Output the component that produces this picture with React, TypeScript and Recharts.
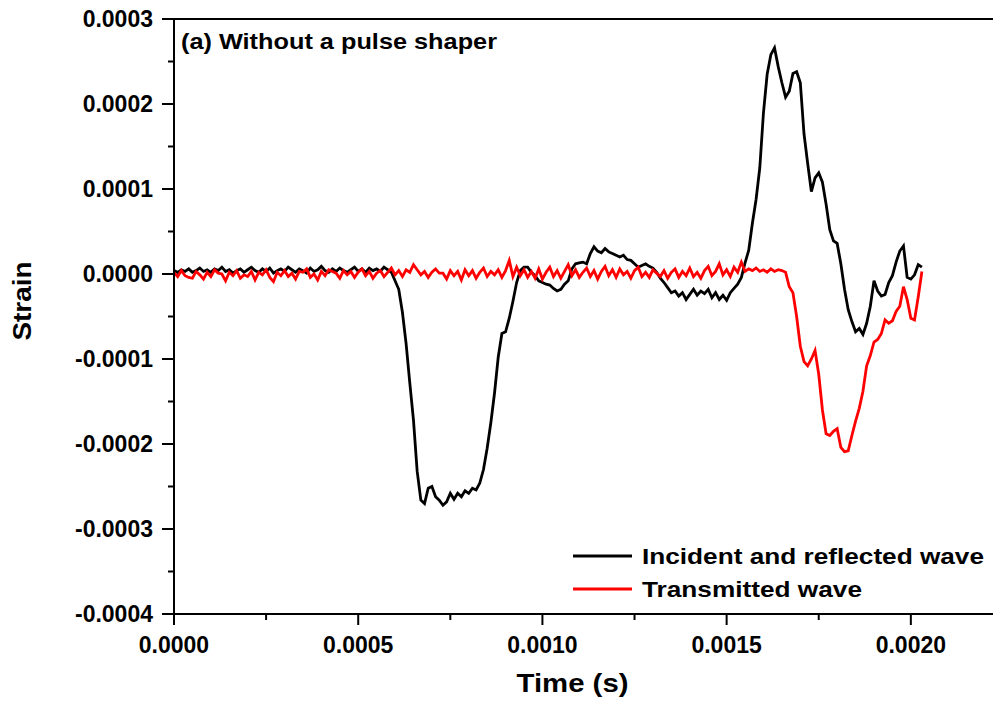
import React from "react"
import { LineChart, Line, XAxis, YAxis, ReferenceLine, Legend } from "recharts"

const FONT = "'Liberation Sans', Arial, sans-serif"

// sampling interval of the recorded gauge signals (s)
const STEP_S = 0.00001

// incident + reflected wave, in microstrain
const incident = [
  4, 2, 5, 3, 6, 2, 4, 7, 3, 5,
  2, 6, 4, 8, 3, 5, 1, 4, 6, 2,
  5, 8, 4, 2, 6, 3, 7, 1, 4, 6,
  3, 8, 5, 2, 6, 4, 1, 7, 3, 5,
  9, 4, 2, 6, 3, 7, 4, 2, 5, 8,
  3, 6, 2, 7, 4, 6, 3, 8, 5, 2,
  -8, -18, -45, -82, -128, -172, -232, -266, -270, -252,
  -250, -262, -266, -272, -268, -258, -265, -258, -262, -255,
  -258, -252, -254, -246, -230, -205, -175, -140, -98, -70,
  -68, -52, -32, -10, 4, 8, 8, 2, -2, -8,
  -10, -12, -13, -17, -20, -18, -12, -8, 6, 12,
  13, 14, 12, 24, 32, 27, 25, 30, 26, 24,
  22, 20, 22, 17, 16, 12, 8, 10, 12, 9,
  7, 2, -5, -10, -16, -22, -20, -26, -22, -30,
  -24, -18, -25, -20, -23, -18, -28, -22, -30, -25,
  -31, -22, -17, -12, -4, 13, 28, 60, 88, 125,
  190, 235, 258, 266, 244, 225, 208, 215, 236, 238,
  225, 165, 130, 97, 113, 119, 108, 82, 52, 39,
  36, 12, -18, -42, -56, -68, -64, -71, -58, -38,
  -8, -20, -26, -24, -10, -2, 14, 27, 33, -4,
  -6, -1, 11, 8,
]

// transmitted wave, in microstrain
const transmitted = [
  2, -3, 4, -2, -4, -5, 3, -1, -6, 2,
  -3, 5, 1, 0, -8, 2, -2, 4, -5, -1,
  -3, 3, -7, 2, -1, 5, -4, -9, 2, -2,
  4, -3, 1, -6, 3, 2, 6, -4, 0, -7,
  3, -2, 5, 3, 1, -5, 4, -1, 3, -4,
  2, 6, -2, 3, -5, 1, 4, -3, 2, 7,
  -1, 4, -3, 5, 2, 11, 5, -1, 3, -4,
  2, 6, 1, 1, -6, 4, -2, 3, -7, 5,
  -2, 4, -5, 2, 7, -3, 3, -1, 5, -4,
  4, 16, -3, 8, -2, 5, -4, 3, -5, 6,
  -6, 2, 8, -3, 4, -5, 3, 11, -2, 5,
  -4, 2, 7, -3, 4, -6, 3, 9, -2, 5,
  -4, 6, -1, 3, -5, 4, 8, -3, 2, -4,
  5, 1, -3, 4, -5, 2, 6, -4, 3, -2,
  7, -3, 2, -5, 4, 9, -2, 3, 12, -1,
  5, -3, 8, 2, 14, 3, 6, 4, 7, 3,
  5, 2, 6, 3, 5, 4, 2, -15, -22, -50,
  -85, -103, -108, -100, -90, -118, -160, -188, -190, -185,
  -182, -204, -209, -208, -190, -173, -158, -138, -108, -96,
  -80, -77, -70, -54, -58, -55, -44, -38, -15, -30,
  -52, -54, -27, 3,
]

const xMajorTicks = [0, 0.0005, 0.001, 0.0015, 0.002]
const xMinorTicks = [0.00025, 0.00075, 0.00125, 0.00175]
const yMajorTicks = [-0.0004, -0.0003, -0.0002, -0.0001, 0, 0.0001, 0.0002, 0.0003]
const yMinorTicks = [-0.00035, -0.00025, -0.00015, -0.00005, 0.00005, 0.00015, 0.00025]

const legendItems = [
  { label: "Incident and reflected wave", color: "#000000", width: 342 },
  { label: "Transmitted wave", color: "#ff0000", width: 220 },
]

const data = incident.map((v, i) => ({
  t: i * STEP_S,
  incident: v * 1e-6,
  transmitted: transmitted[i] * 1e-6,
}))

const isMajor = (v: number, list: number[]) => list.some((m) => Math.abs(m - v) < 1e-9)

const textStyle = { fontFamily: FONT, fontWeight: "bold" as const, fill: "#000" }

function XTick({ x, y, payload }: any) {
  const major = isMajor(payload.value, xMajorTicks)
  return (
    <g>
      <line x1={x} y1={y} x2={x} y2={y + (major ? 11 : 6)} stroke="#000" strokeWidth={2} />
      {major && (
        <text x={x} y={y + 39} textAnchor="middle" fontSize={23} {...textStyle}>
          {payload.value.toFixed(4)}
        </text>
      )}
    </g>
  )
}

function YTick({ x, y, payload }: any) {
  const major = isMajor(payload.value, yMajorTicks)
  return (
    <g>
      <line x1={x - (major ? 12 : 6)} y1={y} x2={x} y2={y} stroke="#000" strokeWidth={2} />
      {major && (
        <text x={x - 21} y={y + 8} textAnchor="end" fontSize={23} {...textStyle}>
          {payload.value.toFixed(4)}
        </text>
      )}
    </g>
  )
}

function LegendBox() {
  return (
    <svg width={420} height={64}>
      {legendItems.map((it, i) => {
        const cy = 16 + i * 33
        return (
          <g key={it.label}>
            <line x1={0} x2={59} y1={cy} y2={cy} stroke={it.color} strokeWidth={2.8} />
            <text x={69} y={cy + 8} fontSize={22} textLength={it.width} lengthAdjust="spacingAndGlyphs" {...textStyle}>
              {it.label}
            </text>
          </g>
        )
      })}
    </svg>
  )
}

export default function App() {
  return (
    <div style={{ position: "absolute", left: 0, top: 0, width: 993, height: 704 }}>
      <LineChart width={993} height={704} data={data} margin={{ top: 19, right: 0, bottom: 0, left: 0 }}>
        <XAxis
          dataKey="t"
          type="number"
          domain={[0, 0.002223]}
          allowDataOverflow
          ticks={[...xMajorTicks, ...xMinorTicks].sort((a, b) => a - b)}
          interval={0}
          height={90}
          tickSize={0}
          tickMargin={0}
          tickLine={false}
          axisLine={{ stroke: "#000", strokeWidth: 2 }}
          tick={<XTick />}
          label={{
            content: () => (
              <text x={572.5} y={692} textAnchor="middle" fontSize={25} textLength={112} lengthAdjust="spacingAndGlyphs" {...textStyle}>
                Time (s)
              </text>
            ),
          }}
        />
        <YAxis
          type="number"
          domain={[-0.0004, 0.0003]}
          allowDataOverflow
          ticks={[...yMajorTicks, ...yMinorTicks].sort((a, b) => a - b)}
          interval={0}
          width={174}
          tickSize={0}
          tickMargin={0}
          tickLine={false}
          axisLine={{ stroke: "#000", strokeWidth: 2 }}
          tick={<YTick />}
          label={{
            content: () => (
              <text transform="translate(31,301) rotate(-90)" textAnchor="middle" fontSize={25} textLength={79} lengthAdjust="spacingAndGlyphs" {...textStyle}>
                Strain
              </text>
            ),
          }}
        />
        <ReferenceLine y={0.0003} stroke="#000" strokeWidth={2} />
        <Line
          type="linear"
          dataKey="incident"
          name="Incident and reflected wave"
          stroke="#000000"
          strokeWidth={2.8}
          dot={false}
          isAnimationActive={false}
        />
        <Line
          type="linear"
          dataKey="transmitted"
          name="Transmitted wave"
          stroke="#ff0000"
          strokeWidth={2.8}
          dot={false}
          isAnimationActive={false}
        />
        <Legend
          layout="vertical"
          align="center"
          verticalAlign="middle"
          content={<LegendBox />}
          wrapperStyle={{ position: "absolute", left: 573, top: 540, width: 420, height: 64 }}
        />
      </LineChart>
      <svg width={993} height={704} style={{ position: "absolute", left: 0, top: 0, pointerEvents: "none" }}>
        <text x={181} y={49} fontSize={22} textLength={316} lengthAdjust="spacingAndGlyphs" {...textStyle}>
          (a) Without a pulse shaper
        </text>
      </svg>
    </div>
  )
}
